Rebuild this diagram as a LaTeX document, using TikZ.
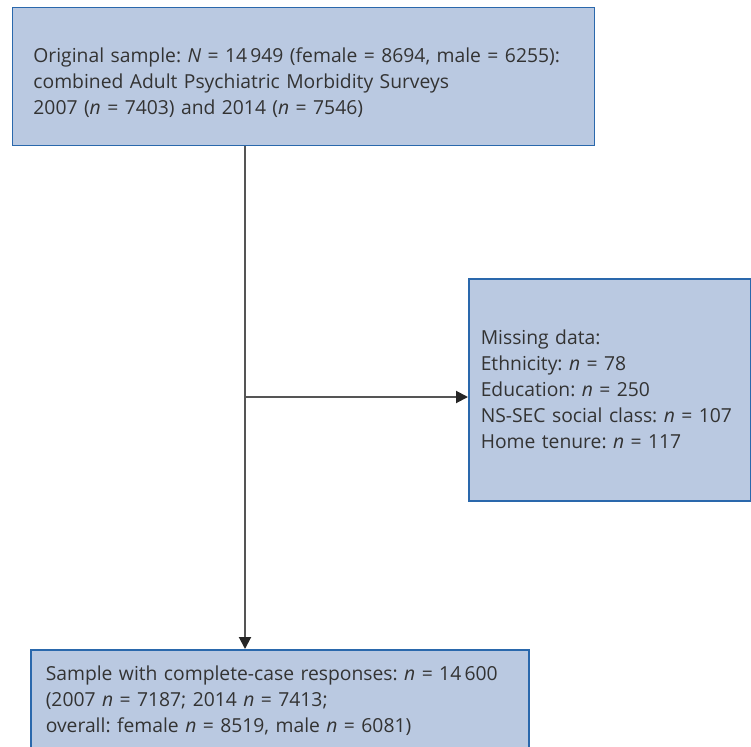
\documentclass[tikz,border=0pt]{standalone}
\usepackage{fontspec}
\setmainfont{Open Sans}
\usetikzlibrary{arrows.meta}
\definecolor{boxfill}{RGB}{186,201,225}
\definecolor{boxline}{RGB}{42,104,172}
\definecolor{linegray}{RGB}{85,85,85}
\definecolor{textgray}{RGB}{51,51,51}

\begin{document}
\begin{tikzpicture}[
    x=1pt, y=-1pt,
    box/.style={rectangle, draw=boxline, line width=1.5pt, fill=boxfill, text=textgray, align=left, anchor=north west, font=\fontsize{19.3}{26}\selectfont\frenchspacing},
    link/.style={draw=linegray, line width=2pt},
    arrow/.style={link, -{Triangle[length=12pt, width=12pt, color=black!85]}}
]
\useasboundingbox (0,0) rectangle (751,746);

% Nodes
\node[box, inner xsep=21pt, text width=540pt, minimum height=138pt] (orig) at (11.7,7) {
    \mbox{}\\
    Original sample: \textit{N} = 14\,949 (female = 8694, male = 6255):\\
    combined Adult Psychiatric Morbidity Surveys\\
    2007 (\textit{n} = 7403) and 2014 (\textit{n} = 7546)
};

\node[box, inner xsep=12pt, text width=258pt, minimum height=222pt] (missing) at (468,278) {
    Missing data:\\
    Ethnicity: \textit{n} = 78\\
    Education: \textit{n} = 250\\
    NS-SEC social class: \textit{n} = 107\\
    Home tenure: \textit{n} = 117
};

\node[box, inner xsep=15pt, text width=468pt, minimum height=102pt] (final) at (30,649) {
    Sample with complete-case responses: \textit{n} = 14\,600\\
    (2007 \textit{n} = 7187; 2014 \textit{n} = 7413;\\
    overall: female \textit{n} = 8519, male \textit{n} = 6081)
};

\coordinate (split) at (245,397);

% Arrows
\draw[link] (orig.south -| split) -- (split);
\draw[arrow] (split) -- (final.north -| split);
\draw[arrow] (split) -- (missing.west |- split);

\end{tikzpicture}
\end{document}
